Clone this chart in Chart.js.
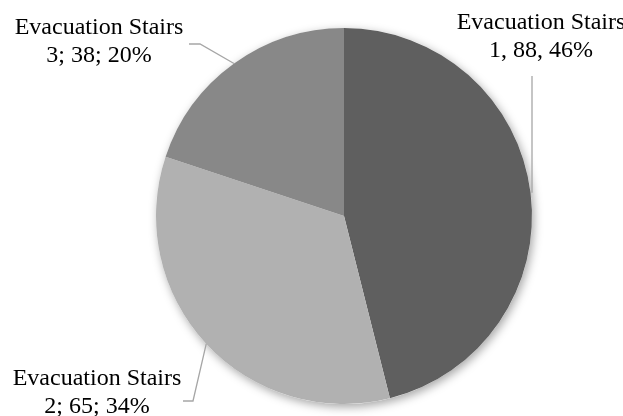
<!DOCTYPE html>
<html>
<head>
<meta charset="utf-8">
<script src="https://cdn.jsdelivr.net/npm/chart.js@4/dist/chart.umd.min.js"></script>
<style>
  html, body { margin: 0; padding: 0; background: #fff; }
  #wrap { width: 623px; height: 416px; position: relative; }
</style>
</head>
<body>
<div id="wrap"><canvas id="pieChart"></canvas></div>
<script>
// data
var labels = ["Evacuation Stairs 1", "Evacuation Stairs 2", "Evacuation Stairs 3"];
var values = [88, 65, 38];
var percents = ["46%", "34%", "20%"];
var labelLines = [
    ["Evacuation Stairs", "1, 88, 46%"],
    ["Evacuation Stairs", "2; 65; 34%"],
    ["Evacuation Stairs", "3; 38; 20%"]
];
var colors = ["#5f5f5f", "#b1b1b1", "#888888"];

// where each label sits, and where its leader line starts
var labelPos = [
    { x: 541, y: 29, lead: [[532, 76]] },
    { x: 97, y: 385, lead: [[183, 401], [193, 401]] },
    { x: 99, y: 34, lead: [[189, 44], [200, 44]] }
];

// soft shadow under the whole pie
var pieShadow = {
    id: "pieShadow",
    beforeDatasetsDraw: function(chart) {
        var arc = chart.getDatasetMeta(0).data[0];
        var ctx = chart.ctx;
        ctx.save();
        ctx.shadowColor = "rgba(0,0,0,0.35)";
        ctx.shadowBlur = 10;
        ctx.shadowOffsetX = 2;
        ctx.shadowOffsetY = 3;
        ctx.fillStyle = "#ffffff";
        ctx.beginPath();
        ctx.arc(arc.x, arc.y, arc.outerRadius, 0, Math.PI * 2);
        ctx.fill();
        ctx.restore();
    }
};

// data labels with leader lines
var pieLabels = {
    id: "pieLabels",
    afterDatasetsDraw: function(chart) {
        var ctx = chart.ctx;
        var meta = chart.getDatasetMeta(0);
        ctx.save();
        meta.data.forEach(function(arc, i) {
            var mid = (arc.startAngle + arc.endAngle) / 2;
            var ex = arc.x + Math.cos(mid) * arc.outerRadius;
            var ey = arc.y + Math.sin(mid) * arc.outerRadius;
            var p = labelPos[i];

            ctx.strokeStyle = "#a6a6a6";
            ctx.lineWidth = 1.3;
            ctx.beginPath();
            ctx.moveTo(p.lead[0][0], p.lead[0][1]);
            for (var k = 1; k < p.lead.length; k++) {
                ctx.lineTo(p.lead[k][0], p.lead[k][1]);
            }
            if (i === 0) {
                ctx.lineTo(p.lead[0][0], ey);
            } else {
                ctx.lineTo(ex, ey);
            }
            ctx.stroke();

            ctx.fillStyle = "#000";
            ctx.font = "24px 'Liberation Serif', 'Times New Roman', serif";
            ctx.textAlign = "center";
            ctx.textBaseline = "alphabetic";
            ctx.fillText(labelLines[i][0], p.x, p.y);
            ctx.fillText(labelLines[i][1], p.x, p.y + 28);
        });
        ctx.restore();
    }
};

var ctx = document.getElementById("pieChart");
var PieGraph = new Chart(ctx, {
    type: "pie",
    data: {
        labels: labels,
        datasets: [
            {
                data: values,
                backgroundColor: colors,
                borderWidth: 0
            }
        ]
    },
    options: {
        responsive: true,
        maintainAspectRatio: false,
        animation: false,
        layout: {
            padding: { left: 100, right: 35, top: 28, bottom: 12 }
        },
        plugins: {
            legend: { display: false },
            tooltip: { enabled: false }
        }
    },
    plugins: [pieShadow, pieLabels]
});
</script>
</body>
</html>
